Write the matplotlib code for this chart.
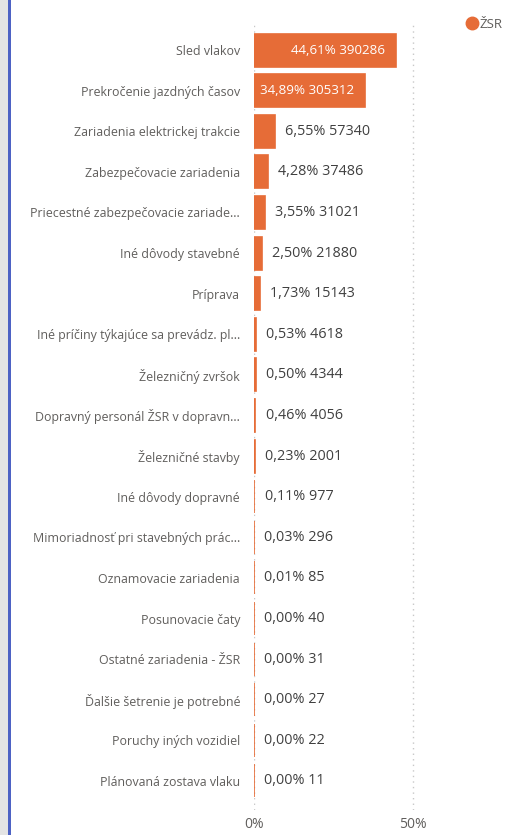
import matplotlib.pyplot as plt
from matplotlib.patches import Rectangle
from matplotlib.lines import Line2D

# dôvody meškaní a počty
dovody = ['Sled vlakov', 'Prekročenie jazdných časov', 'Zariadenia elektrickej trakcie',
          'Zabezpečovacie zariadenia', 'Priecestné zabezpečovacie zariade...',
          'Iné dôvody stavebné', 'Príprava', 'Iné príčiny týkajúce sa prevádz. pl...',
          'Železničný zvršok', 'Dopravný personál ŽSR v dopravn...', 'Železničné stavby',
          'Iné dôvody dopravné', 'Mimoriadnosť pri stavebných prác...',
          'Oznamovacie zariadenia', 'Posunovacie čaty', 'Ostatné zariadenia - ŽSR',
          'Ďalšie šetrenie je potrebné', 'Poruchy iných vozidiel', 'Plánovaná zostava vlaku']
pocty = [390286, 305312, 57340, 37486, 31021, 21880, 15143, 4618, 4344, 4056,
         2001, 977, 296, 85, 40, 31, 27, 22, 11]
xticks = [0, 50]
xtick_labels = ['0%', '50%']

total = sum(pocty)
podiel = [p / total * 100 for p in pocty]

oranzova = '#E66C37'
seda = '#605E5C'
tmava = '#404040'

plt.rcParams['font.family'] = ['Open Sans', 'DejaVu Sans']

W, H = 509, 835
fig = plt.figure(figsize=(W / 100, H / 100), dpi=100)

# okraj vľavo
fig.patches.append(Rectangle((0, 0), 8 / W, 1, transform=fig.transFigure,
                             facecolor='#e4e4e4', edgecolor='none'))
fig.patches.append(Rectangle((8 / W, 0), 3 / W, 1, transform=fig.transFigure,
                             facecolor='#4d62c4', edgecolor='none'))

px = 3.18  # pixelov na 1 %
ax_l, ax_r = 254, 470
ax_t, ax_b = 25, 810
ax = fig.add_axes([ax_l / W, 1 - ax_b / H, (ax_r - ax_l) / W, (ax_b - ax_t) / H])
ax.set_xlim(0, (ax_r - ax_l) / px)
row = 40.6
ax.set_ylim(18 + (ax_b - 781) / row, -(50 - ax_t) / row)

y = list(range(len(dovody)))
ax.barh(y, podiel, height=33 / row, color=oranzova, edgecolor=oranzova,
        linewidth=1.2, zorder=3)

for yi, p, n in zip(y, podiel, pocty):
    txt = f'{p:.2f}%'.replace('.', ',') + f' {n}'
    if p > 30:
        ax.text(p - 3.3, yi, txt, ha='right', va='center', color='white',
                fontsize=9.6, zorder=4)
    else:
        ax.text(p + 3.2, yi, txt, ha='left', va='center', color=tmava,
                fontsize=10.4, zorder=4)

ax.set_yticks(y)
ax.set_yticklabels(dovody, fontsize=8.9, color=seda)
ax.tick_params(axis='y', length=0, pad=10)
ax.set_xticks(xticks)
ax.set_xticklabels(xtick_labels, fontsize=10, color=seda)
ax.tick_params(axis='x', length=0, pad=5)
ax.grid(axis='x', color='#c8c8c8', linestyle=(0, (1, 3)), linewidth=1, zorder=0)
for s in ax.spines.values():
    s.set_visible(False)

# legenda
fig.add_artist(Line2D([472 / W], [1 - 23 / H], marker='o', markersize=9,
                      color=oranzova, linestyle='none', transform=fig.transFigure))
fig.text(480 / W, 1 - 23 / H, 'ŽSR', color=seda, fontsize=9.5, ha='left',
         va='center_baseline')

fig.savefig('out.png', dpi=100)
